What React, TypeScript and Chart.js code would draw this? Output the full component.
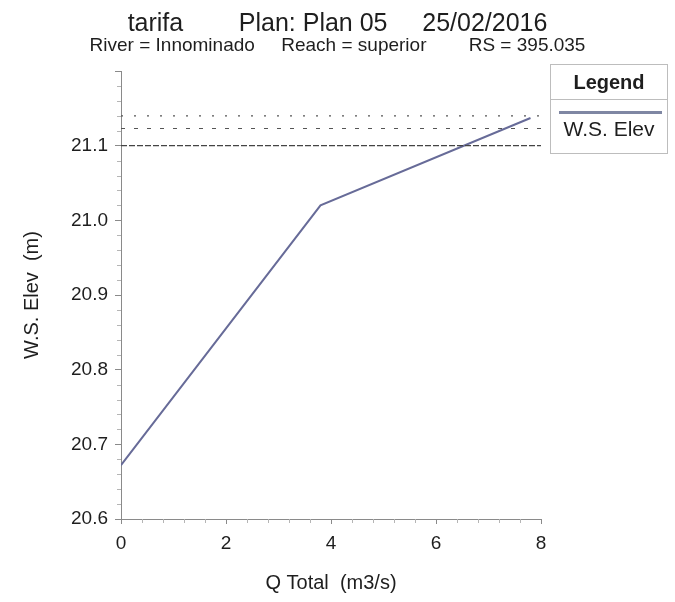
import React, { useEffect, useRef } from "react";
import { Chart, registerables } from "chart.js";

Chart.register(...registerables);

// ---- data ----
const qTotal = [0, 3.8, 7.8];
const wsElev = [20.672, 21.02, 21.137];
const refLevels = [21.14, 21.123, 21.1];
const xRange = [0, 8];
const yRange = [20.6, 21.2];
const xTickStep = 2;
const yTickStep = 0.1;

const titleText = "tarifa        Plan: Plan 05     25/02/2016";
const subtitleText = "River = Innominado     Reach = superior        RS = 395.035";
const xTitle = "Q Total  (m3/s)";
const yTitle = "W.S. Elev  (m)";
const seriesName = "W.S. Elev";
const legendTitle = "Legend";

const FONT = "'Liberation Sans', Arial, Helvetica, sans-serif";
const TEXT = "#1e1e1e";
const AXIS = "#8a8a8a";
const LINE = "#676b98";

const headerPlugin = {
  id: "header",
  afterDraw(chart: any) {
    const ctx = chart.ctx;
    ctx.save();
    ctx.fillStyle = TEXT;
    ctx.textAlign = "center";
    ctx.textBaseline = "alphabetic";
    ctx.font = `25px ${FONT}`;
    ctx.fillText(titleText, chart.width / 2, 31);
    ctx.font = `19px ${FONT}`;
    ctx.fillText(subtitleText, chart.width / 2, 51);
    ctx.restore();
  },
};

const minorTicksPlugin = {
  id: "minorTicks",
  afterDraw(chart: any) {
    const ctx = chart.ctx;
    const xs = chart.scales.x;
    const ys = chart.scales.y;
    ctx.save();
    ctx.strokeStyle = "#b5b5b5";
    ctx.lineWidth = 1;
    ctx.beginPath();
    for (let i = 1; i < 30; i++) {
      if (i % 5 === 0) continue;
      const v = yRange[0] + i * 0.02;
      const py = Math.round(ys.getPixelForValue(v)) + 0.5;
      ctx.moveTo(xs.left - 4, py);
      ctx.lineTo(xs.left, py);
    }
    for (let i = 1; i < 20; i++) {
      if (i % 5 === 0) continue;
      const v = xRange[0] + i * 0.4;
      const px = Math.round(xs.getPixelForValue(v)) + 0.5;
      ctx.moveTo(px, ys.bottom);
      ctx.lineTo(px, ys.bottom + 4);
    }
    ctx.stroke();
    ctx.restore();
  },
};

export default function App() {
  const ref = useRef<HTMLCanvasElement | null>(null);

  useEffect(() => {
    if (!ref.current) return;
    const refStyles = [
      { dash: [2, 11], width: 1.2, color: "#555" },
      { dash: [4, 9], width: 1.2, color: "#555" },
      { dash: [6, 2], width: 1.3, color: "#444" },
    ];
    const chart = new Chart(ref.current, {
      type: "line",
      data: {
        datasets: [
          ...refLevels.map((lvl, i) => ({
            label: "ref" + i,
            data: [
              { x: xRange[0], y: lvl },
              { x: xRange[1], y: lvl },
            ],
            borderColor: refStyles[i].color,
            borderWidth: refStyles[i].width,
            borderDash: refStyles[i].dash,
            pointRadius: 0,
            fill: false,
          })),
          {
            label: seriesName,
            data: qTotal.map((q, i) => ({ x: q, y: wsElev[i] })),
            borderColor: LINE,
            borderWidth: 2,
            pointRadius: 0,
            tension: 0,
            fill: false,
          },
        ],
      },
      options: {
        animation: false,
        responsive: false,
        devicePixelRatio: 1,
        layout: { padding: { top: 71, right: 134, left: 0, bottom: 0 } },
        plugins: {
          legend: { display: false },
          tooltip: { enabled: false },
          title: { display: false },
        },
        scales: {
          x: {
            type: "linear",
            min: xRange[0],
            max: xRange[1],
            ticks: {
              stepSize: xTickStep,
              color: TEXT,
              font: { family: FONT, size: 19 },
              padding: 8,
            },
            grid: {
              display: true,
              drawOnChartArea: false,
              drawTicks: true,
              tickLength: 5,
              color: AXIS,
            },
            border: { display: true, color: AXIS, width: 1 },
            title: {
              display: true,
              text: xTitle,
              color: TEXT,
              font: { family: FONT, size: 20 },
              padding: { top: 0, bottom: 7 },
            },
            afterFit: (s: any) => {
              s.height = 83;
            },
          },
          y: {
            type: "linear",
            min: yRange[0],
            max: yRange[1],
            ticks: {
              stepSize: yTickStep,
              color: TEXT,
              font: { family: FONT, size: 19 },
              padding: 7,
              callback: (v: any) => (Number(v) > 21.15 ? "" : Number(v).toFixed(1)),
            },
            grid: {
              display: true,
              drawOnChartArea: false,
              drawTicks: true,
              tickLength: 6,
              color: AXIS,
            },
            border: { display: true, color: AXIS, width: 1 },
            title: {
              display: true,
              text: yTitle,
              color: TEXT,
              font: { family: FONT, size: 20 },
              padding: { top: 20, bottom: 0 },
            },
            afterFit: (s: any) => {
              s.width = 121;
            },
          },
        },
      },
      plugins: [headerPlugin, minorTicksPlugin],
    } as any);
    return () => chart.destroy();
  }, []);

  return (
    <div
      style={{
        position: "fixed",
        left: 0,
        top: 0,
        width: 675,
        height: 602,
        background: "#fff",
        fontFamily: FONT,
      }}
    >
      <canvas ref={ref} width={675} height={602} style={{ width: 675, height: 602, display: "block" }} />
      <div
        style={{
          position: "absolute",
          left: 550,
          top: 64,
          width: 118,
          height: 90,
          border: "1px solid #bdbdbd",
          boxSizing: "border-box",
          color: TEXT,
        }}
      >
        <div
          style={{
            height: 35,
            borderBottom: "1px solid #bdbdbd",
            textAlign: "center",
            fontWeight: "bold",
            fontSize: 20,
            lineHeight: "34px",
            boxSizing: "border-box",
          }}
        >
          {legendTitle}
        </div>
        <div style={{ height: 3, background: "#7f87a3", margin: "11px 5px 0 8px" }} />
        <div style={{ textAlign: "center", fontSize: 21, lineHeight: "24px", marginTop: 3 }}>{seriesName}</div>
      </div>
    </div>
  );
}
